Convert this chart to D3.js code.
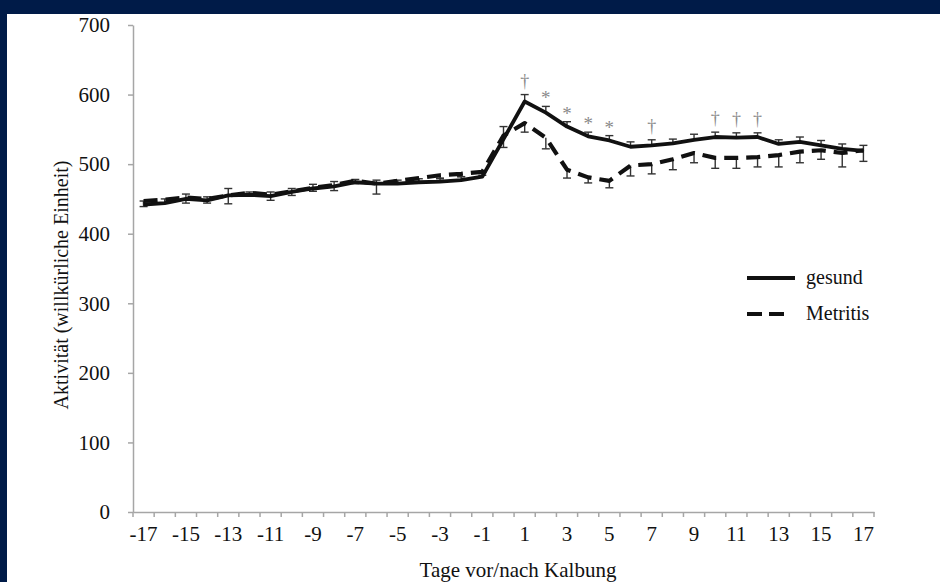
<!DOCTYPE html>
<html><head><meta charset="utf-8">
<script src="https://cdn.jsdelivr.net/npm/d3@7"></script>
<style>
html,body{margin:0;padding:0;background:#001b48;}
svg{display:block;}
</style></head>
<body>
<svg id="chart" width="940" height="582"></svg>
<script>
const days = [-17,-16,-15,-14,-13,-12,-11,-10,-9,-8,-7,-6,-5,-4,-3,-2,-1,0,1,2,3,4,5,6,7,8,9,10,11,12,13,14,15,16,17];
const gesund = [442,444,450,448,455,456,454,460,465,468,474,472,472,474,475,477,482,536,590,574,554,540,534,525,527,530,535,539,538,539,529,532,527,522,519];
const gesundSE = [5,6,7,5,10,4,6,5,6,7,4,5,5,5,4,5,6,18,10,9,7,6,7,7,8,6,8,7,7,6,6,7,7,7,8];
const metritis = [447,449,452,450,455,459,456,461,466,470,476,472,476,480,484,486,489,541,559,538,492,481,476,498,500,507,516,509,509,510,513,518,520,516,520];
const metritisSE = [8,5,8,6,12,5,8,6,5,8,4,15,5,6,4,4,5,17,13,16,12,8,10,15,14,15,14,15,15,14,17,16,13,20,16];
const sigDays = [1,2,3,4,5,7,10,11,12];
const sigSymbols = ["†","*","*","*","*","†","†","†","†"];
const yTicks = [0,100,200,300,400,500,600,700];
const xLabelDays = [-17,-15,-13,-11,-9,-7,-5,-3,-1,1,3,5,7,9,11,13,15,17];
const seriesNames = ["gesund","Metritis"];

const svg = d3.select("#chart");
const FONT = "'Liberation Serif','Times New Roman',serif";

svg.append("rect").attr("x",7).attr("y",14).attr("width",933).attr("height",568).attr("fill","#ffffff");

const x = d3.scaleBand().domain(days).range([133,874]).padding(0);
const y = d3.scaleLinear().domain([0,700]).range([512,25]);
const cx = d => x(d) + x.bandwidth()/2;

// y axis
const yAxis = svg.append("g").attr("transform","translate(133,0)")
  .call(d3.axisLeft(y).tickValues(yTicks).tickSize(5).tickSizeOuter(0).tickPadding(18));
yAxis.select(".domain").attr("stroke","#a6a6a6").attr("stroke-width",1.5);
yAxis.selectAll(".tick line").attr("stroke","#a6a6a6").attr("stroke-width",1.5);
yAxis.selectAll(".tick text").attr("font-family",FONT).attr("font-size",21).attr("fill","#111");

// x axis
const xAxis = svg.append("g").attr("transform","translate(0,512)")
  .call(d3.axisBottom(x).tickValues(xLabelDays).tickSize(0).tickSizeOuter(0).tickPadding(14));
xAxis.select(".domain").attr("stroke","#a6a6a6").attr("stroke-width",1.5);
xAxis.selectAll(".tick text").attr("font-family",FONT).attr("font-size",21).attr("fill","#111");
const bounds = days.map(d => x(d)).concat([x(days[days.length-1]) + x.bandwidth()]);
svg.append("g").selectAll("line").data(bounds).join("line")
  .attr("x1",d=>d).attr("x2",d=>d).attr("y1",512).attr("y2",517)
  .attr("stroke","#a6a6a6").attr("stroke-width",1.5);

// axis titles
svg.append("text").attr("x",518).attr("y",577).attr("text-anchor","middle")
  .attr("font-family",FONT).attr("font-size",21).attr("fill","#111").text("Tage vor/nach Kalbung");
svg.append("text").attr("transform","translate(68,285) rotate(-90)").attr("text-anchor","middle")
  .attr("font-family",FONT).attr("font-size",20).attr("fill","#111").text("Aktivität (willkürliche Einheit)");

// error bars
const capW = 4;
function errBars(vals, se, dir){
  const g = svg.append("g").attr("stroke","#333").attr("stroke-width",1.4).attr("fill","none");
  days.forEach((d,i)=>{
    const y0 = y(vals[i]), y1 = y(vals[i] + dir*se[i]);
    g.append("line").attr("x1",cx(d)).attr("x2",cx(d)).attr("y1",y0).attr("y2",y1);
    g.append("line").attr("x1",cx(d)-capW).attr("x2",cx(d)+capW).attr("y1",y1).attr("y2",y1);
  });
}
errBars(gesund, gesundSE, 1);
errBars(metritis, metritisSE, -1);

// lines
const line = d3.line().x((d,i)=>cx(days[i])).y(d=>y(d));
svg.append("path").datum(metritis).attr("d",line).attr("fill","none")
  .attr("stroke","#111").attr("stroke-width",4.2).attr("stroke-dasharray","14,8").attr("stroke-linejoin","round");
svg.append("path").datum(gesund).attr("d",line).attr("fill","none")
  .attr("stroke","#111").attr("stroke-width",3.8).attr("stroke-linejoin","round");

// significance markers
svg.append("g").selectAll("text").data(sigDays).join("text")
  .attr("x",d=>cx(d))
  .attr("y",(d,i)=>{const k = days.indexOf(d); return y(gesund[k]+gesundSE[k]) - (sigSymbols[i]==="*"? 2 : 8);})
  .attr("text-anchor","middle")
  .attr("font-family",FONT)
  .attr("font-size",(d,i)=>sigSymbols[i]==="*"?19:18)
  .attr("fill","#8a8a8a")
  .text((d,i)=>sigSymbols[i]);

// legend
const lg = svg.append("g");
lg.append("line").attr("x1",747).attr("x2",795).attr("y1",278).attr("y2",278)
  .attr("stroke","#111").attr("stroke-width",4);
lg.append("line").attr("x1",747).attr("x2",784).attr("y1",314).attr("y2",314)
  .attr("stroke","#111").attr("stroke-width",4).attr("stroke-dasharray","15,7");
lg.selectAll("text").data(seriesNames).join("text")
  .attr("x",806).attr("y",(d,i)=>284+i*36)
  .attr("font-family",FONT).attr("font-size",20).attr("fill","#111").text(d=>d);
</script>
</body></html>
